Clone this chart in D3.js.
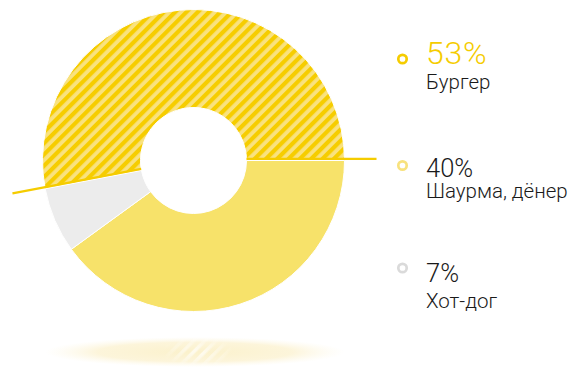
<!DOCTYPE html>
<html>
<head>
<meta charset="utf-8">
<script src="https://cdn.jsdelivr.net/npm/d3@7"></script>
<style>
  html, body { margin: 0; padding: 0; background: #fff; }
  svg { display: block; }
  text { font-family: Roboto, "Noto Sans", sans-serif; }
</style>
</head>
<body>
<svg id="chart" width="585" height="368"></svg>
<script>
const categories = ["Бургер", "Шаурма, дёнер", "Хот-дог"];
const values = [53, 40, 7];
const percentLabels = ["53%", "40%", "7%"];
const sliceColors = ["url(#hatch)", "#f7e26a", "#ececec"];
const markerColors = ["#f5cc00", "#f8e27e", "#dadada"];
const percentColors = ["#f5cc00", "#1a1a1a", "#1a1a1a"];

const svg = d3.select("#chart");
const defs = svg.append("defs");

const pat = defs.append("pattern")
  .attr("id", "hatch")
  .attr("patternUnits", "userSpaceOnUse")
  .attr("width", 8).attr("height", 8)
  .attr("patternTransform", "rotate(45)");
pat.append("rect").attr("width", 8).attr("height", 8).attr("fill", "#f9e27f");
pat.append("rect").attr("width", 4.2).attr("height", 8).attr("fill", "#f6cd00");

const grad = defs.append("radialGradient").attr("id", "shadow");
grad.append("stop").attr("offset", "0%").attr("stop-color", "#fbf1cb").attr("stop-opacity", 1);
grad.append("stop").attr("offset", "65%").attr("stop-color", "#fcf3d4").attr("stop-opacity", 0.85);
grad.append("stop").attr("offset", "100%").attr("stop-color", "#fdf8e6").attr("stop-opacity", 0);

const stripeMask = defs.append("mask").attr("id", "stripeMask");
const mg = stripeMask.append("radialGradient").attr("id", "maskGrad");
mg.append("stop").attr("offset", "0%").attr("stop-color", "#fff");
mg.append("stop").attr("offset", "100%").attr("stop-color", "#000");
stripeMask.append("ellipse").attr("cx", 198).attr("cy", 352).attr("rx", 36).attr("ry", 16)
  .attr("fill", "url(#maskGrad)");

const wpat = defs.append("pattern")
  .attr("id", "whatch")
  .attr("patternUnits", "userSpaceOnUse")
  .attr("width", 8).attr("height", 8)
  .attr("patternTransform", "rotate(45)");
wpat.append("rect").attr("width", 3.5).attr("height", 8).attr("fill", "#ffffff");

const cx = 193.5, cy = 160.5, rOuter = 151, rInner = 53;

// shadow
svg.append("ellipse")
  .attr("cx", 195).attr("cy", 352).attr("rx", 150).attr("ry", 15)
  .attr("fill", "url(#shadow)");
svg.append("ellipse")
  .attr("cx", 198).attr("cy", 352).attr("rx", 40).attr("ry", 15)
  .attr("fill", "url(#whatch)").attr("opacity", 0.75)
  .attr("mask", "url(#stripeMask)");

const deg = Math.PI / 180;
const pie = d3.pie().sort(null).value(d => d)
  .startAngle(-100.8 * deg).endAngle(259.2 * deg);
const arcs = pie(values);
const arc = d3.arc().innerRadius(rInner).outerRadius(rOuter);

const g = svg.append("g").attr("transform", `translate(${cx},${cy})`);
g.selectAll("path.slice").data(arcs).join("path")
  .attr("class", "slice")
  .attr("d", arc)
  .attr("fill", (d, i) => sliceColors[i])
  .attr("stroke", "#fff").attr("stroke-width", 1);

// leader lines along the burger slice edges
const b = arcs[0];
const edges = [
  { a: b.startAngle, off: 1.6, r1: rInner, r2: 184 },
  { a: b.endAngle, off: -1.6, r1: rInner, r2: 183 }
];
edges.forEach(e => {
  const ux = Math.sin(e.a), uy = -Math.cos(e.a);
  const px = -uy * e.off, py = ux * e.off;
  g.append("line")
    .attr("x1", ux * e.r1 + px).attr("y1", uy * e.r1 + py)
    .attr("x2", ux * e.r2 + px).attr("y2", uy * e.r2 + py)
    .attr("stroke", "#f5cc00").attr("stroke-width", 2.2);
});

// legend
const markerY = [59, 165.5, 268];
const pctSizes = [32, 25.5, 25.5];
const pctBase = [64.3, 177.3, 282];
const nameBase = [89, 198.3, 308];
const lg = svg.append("g");
categories.forEach((c, i) => {
  lg.append("circle").attr("cx", 402.5).attr("cy", markerY[i])
    .attr("r", 4.2).attr("fill", "none")
    .attr("stroke", markerColors[i]).attr("stroke-width", 2.7);
});
percentLabels.forEach((p, i) => {
  lg.append("text").attr("x", 426).attr("y", pctBase[i])
    .style("font-size", pctSizes[i] + "px").style("font-weight", 300)
    .attr("letter-spacing", i === 0 ? 0.8 : 0)
    .attr("fill", percentColors[i]).text(p);
  lg.append("text").attr("x", 426).attr("y", nameBase[i])
    .style("font-size", "20.5px").style("font-weight", 300)
    .attr("fill", "#1a1a1a").text(categories[i]);
});
</script>
</body>
</html>
